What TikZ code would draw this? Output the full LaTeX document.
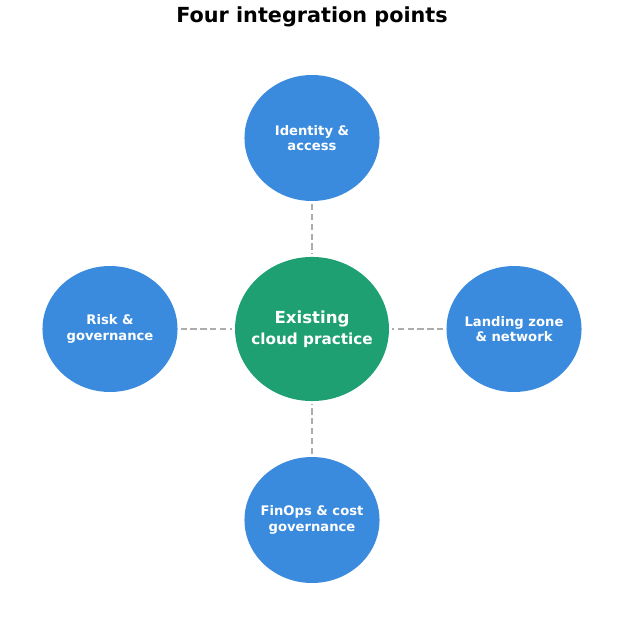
\documentclass[tikz,border=0pt]{standalone}
\usepackage{fontspec}
\setmainfont{DejaVu Sans}
\usetikzlibrary{shapes.geometric, positioning}
\definecolor{pointblue}{HTML}{3A8BDE}
\definecolor{coregreen}{HTML}{1FA073}
\begin{document}
\begin{tikzpicture}[
    x=0.254mm, y=-0.254mm,
    point/.style={draw=none, ellipse, fill=pointblue, minimum width=34.3mm, minimum height=32mm, inner xsep=-6mm, inner ysep=0pt, align=center, text=white, font=\bfseries\fontsize{9.5}{11}\selectfont},
    core/.style={draw=none, ellipse, fill=coregreen, minimum width=39.1mm, minimum height=36.6mm, inner xsep=-7mm, inner ysep=0pt, align=center, text=white, font=\bfseries\fontsize{11}{15}\selectfont},
    link/.style={draw=gray!65, dash pattern=on 1.6mm off 0.9mm, line width=0.9pt},
]
\useasboundingbox (0,0) rectangle (625,625);

% Title
\node[font=\bfseries\fontsize{15}{18}\selectfont] (title) at (312,17) {Four integration points};

% Centre
\node[core] (core) at (312,329) {{\fontsize{12}{15}\selectfont Existing}\\cloud practice};

% Integration points
\node[point] (identity) at (312,138) {Identity \&\\access};
\node[point] (risk) at (110,329) {Risk \&\\governance};
\node[point] (landing) at (514,329) {Landing zone\\\& network};
\node[point] (finops) at (312,520) {FinOps \& cost\\governance};

% Connections
\draw[link] ([yshift=-0.7mm]identity.south) -- ([yshift=0.7mm]core.north);
\draw[link] ([xshift=0.7mm]risk.east) -- ([xshift=-0.7mm]core.west);
\draw[link] ([xshift=-0.7mm]landing.west) -- ([xshift=0.7mm]core.east);
\draw[link] ([yshift=0.7mm]finops.north) -- ([yshift=-0.7mm]core.south);

\end{tikzpicture}
\end{document}
